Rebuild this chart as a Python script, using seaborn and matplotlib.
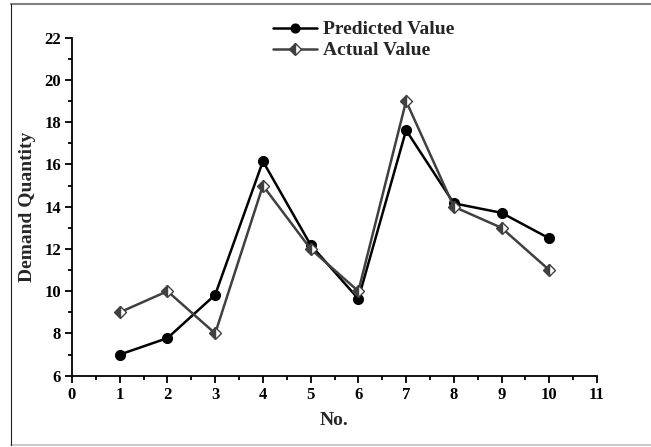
import matplotlib
matplotlib.use("Agg")
import matplotlib.pyplot as plt
from matplotlib.lines import Line2D
from matplotlib.ticker import MultipleLocator
import seaborn as sns
import pandas as pd

no = [1, 2, 3, 4, 5, 6, 7, 8, 9, 10]
predicted = [7.0, 7.78, 9.83, 16.15, 12.19, 9.64, 17.62, 14.16, 13.71, 12.5]
actual = [9, 10, 8, 15, 12, 10, 19, 14, 13, 11]

sns.set_style("ticks")
plt.rcParams['font.family'] = ['Liberation Serif', 'DejaVu Serif']
plt.rcParams['font.weight'] = 'bold'

df = pd.DataFrame({"No.": no, "Predicted Value": predicted, "Actual Value": actual})

fig = plt.figure(figsize=(6.51, 4.47), dpi=100)
ax = fig.add_axes([72/651, 1-375.7/447, (597-72)/651, (375.7-37.7)/447])

sns.lineplot(data=df, x="No.", y="Predicted Value", ax=ax, color="black",
             linewidth=1.8, marker="o", markersize=7, markeredgecolor="black",
             markerfacecolor="black", markeredgewidth=1, label="Predicted Value")
sns.lineplot(data=df, x="No.", y="Actual Value", ax=ax, color="#404040",
             linewidth=1.8, marker="D", markersize=6.5, markeredgecolor="#404040",
             markerfacecolor="#404040", fillstyle="left", markerfacecoloralt="white",
             markeredgewidth=1, label="Actual Value")

ax.set_xlim(0, 11)
ax.set_ylim(6, 22)
ax.xaxis.set_major_locator(MultipleLocator(1))
ax.xaxis.set_minor_locator(MultipleLocator(0.5))
ax.yaxis.set_major_locator(MultipleLocator(2))
ax.yaxis.set_minor_locator(MultipleLocator(1))
ax.tick_params(which="major", direction="out", length=5, width=1.3, labelsize=12, colors="black", pad=3)
ax.tick_params(which="minor", direction="out", length=3, width=1.3, colors="black")
for lab in ax.get_xticklabels() + ax.get_yticklabels():
    lab.set_fontweight("bold")

for s in ["top", "right"]:
    ax.spines[s].set_visible(False)
for s in ["left", "bottom"]:
    ax.spines[s].set_linewidth(1.3)
    ax.spines[s].set_color("black")

ax.set_xlabel("No.", fontsize=14, fontweight="bold")
ax.set_ylabel("Demand Quantity", fontsize=14, fontweight="bold")
ax.xaxis.set_label_coords(0.5, -0.107)
ax.yaxis.set_label_coords(-0.069, 0.5)

leg = ax.legend(loc="upper left", bbox_to_anchor=(263/651, 1-11/447), bbox_transform=fig.transFigure,
                frameon=False, fontsize=14, handlelength=2.3, handletextpad=0.28,
                labelspacing=0.18, borderpad=0, markerscale=0.9)
for t in leg.get_texts():
    t.set_fontweight("bold")

# figure frame
fig.add_artist(Line2D([11/651, 1], [1-4/447, 1-4/447], transform=fig.transFigure, color="#808080", linewidth=1.5))
fig.add_artist(Line2D([11/651, 1], [1-445/447, 1-445/447], transform=fig.transFigure, color="#c0c0c0", linewidth=1.2))
fig.add_artist(Line2D([11/651, 11/651], [1-445/447, 1-4/447], transform=fig.transFigure, color="#202020", linewidth=0.8))

fig.savefig("out.png", dpi=100)
